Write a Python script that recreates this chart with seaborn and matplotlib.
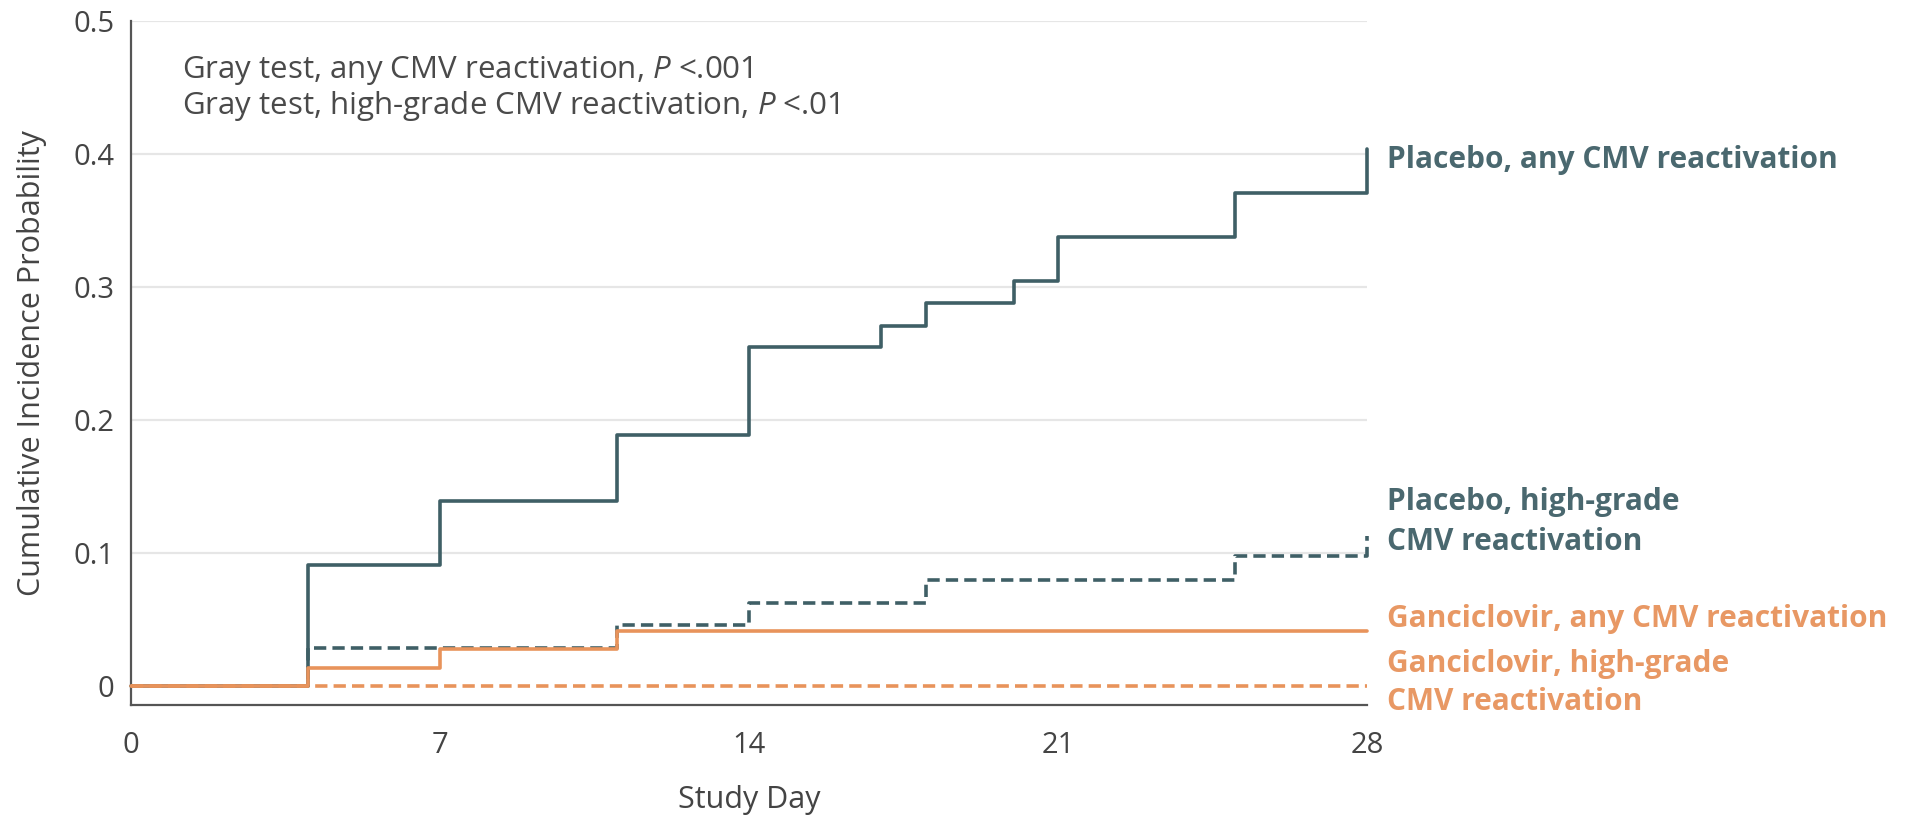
import pandas as pd
import matplotlib.pyplot as plt
import matplotlib.font_manager as fm
import seaborn as sns

# step data (study day, cumulative incidence)
placebo_any_day = [0, 4, 7, 11, 14, 17, 18, 20, 21, 25, 28, 28]
placebo_any_p = [0, 0.091, 0.139, 0.189, 0.255, 0.271, 0.288, 0.305, 0.338, 0.371, 0.371, 0.404]

placebo_hg_day = [0, 4, 11, 14, 18, 25, 28, 28]
placebo_hg_p = [0, 0.029, 0.046, 0.063, 0.080, 0.098, 0.098, 0.113]

gan_any_day = [0, 4, 7, 11, 28]
gan_any_p = [0, 0.014, 0.028, 0.042, 0.042]

gan_hg_day = [0, 28]
gan_hg_p = [0, 0]

x_ticks = [0, 7, 14, 21, 28]
y_ticks = [0, 0.1, 0.2, 0.3, 0.4, 0.5]
y_tick_labels = ['0', '0.1', '0.2', '0.3', '0.4', '0.5']

TEAL = '#3f5f66'
TEAL_TXT = '#4a686f'
ORANGE = '#e8935b'
ORANGE_TXT = '#e89864'
AXIS = '#555555'

sns.set_style('white')
names = {f.name for f in fm.fontManager.ttflist}
family = 'DejaVu Sans'
for cand in ['Liberation Sans Narrow', 'Open Sans', 'Lato']:
    if cand in names:
        family = cand
        break
plt.rcParams.update({
    'font.family': family,
    'mathtext.fontset': 'custom',
    'mathtext.it': family + ':italic',
    'mathtext.rm': family,
})

fig = plt.figure(figsize=(19.05, 8.16), dpi=100)
ax = fig.add_axes([0.0688, 0.136, 0.6488, 0.838])

# gridlines
for yv in y_ticks[1:]:
    ax.axhline(yv, color='#e6e6e6', lw=1.6, zorder=0)

dash = (0, (3.4, 1.7))
series = [
    (placebo_any_day, placebo_any_p, TEAL, '-'),
    (placebo_hg_day, placebo_hg_p, TEAL, dash),
    (gan_any_day, gan_any_p, ORANGE, '-'),
    (gan_hg_day, gan_hg_p, ORANGE, dash),
]
for days, probs, col, ls in series:
    df = pd.DataFrame({'day': days, 'p': probs})
    sns.lineplot(data=df, x='day', y='p', ax=ax, estimator=None, sort=False,
                 drawstyle='steps-post', color=col, lw=2.6, linestyle=ls,
                 clip_on=False, zorder=3)

ax.set_xlim(0, 28)
ax.set_ylim(-0.014, 0.5)
ax.set_xticks(x_ticks)
ax.set_yticks(y_ticks)
ax.set_yticklabels(y_tick_labels)
ax.tick_params(axis='both', labelsize=21, colors=AXIS, labelcolor='#444444',
               direction='out', width=1.5)
ax.tick_params(axis='y', length=6, pad=6)
ax.tick_params(axis='x', length=9, pad=10)
sns.despine(ax=ax)
for s in ['left', 'bottom']:
    ax.spines[s].set_color(AXIS)
    ax.spines[s].set_linewidth(1.6)

ax.set_xlabel('Study Day', fontsize=22, color='#444444', labelpad=18)
ax.set_ylabel('Cumulative Incidence Probability', fontsize=22, color='#444444', labelpad=19)

# test annotation
ax.text(1.16, 0.463, 'Gray test, any CMV reactivation, $P$ <.001',
        fontsize=22.5, color='#4a4a4a', va='center')
ax.text(1.16, 0.436, 'Gray test, high-grade CMV reactivation, $P$ <.01',
        fontsize=22.5, color='#4a4a4a', va='center')

# direct labels
lab_x = 28.45
lab_fs = 21.5
ax.text(lab_x, 0.396, 'Placebo, any CMV reactivation', fontsize=lab_fs,
        fontweight='bold', color=TEAL_TXT, va='center')
ax.text(lab_x, 0.1235, 'Placebo, high-grade\nCMV reactivation', fontsize=lab_fs,
        fontweight='bold', color=TEAL_TXT, va='center', linespacing=1.42)
ax.text(lab_x, 0.051, 'Ganciclovir, any CMV reactivation', fontsize=lab_fs,
        fontweight='bold', color=ORANGE_TXT, va='center')
ax.text(lab_x, 0.0025, 'Ganciclovir, high-grade\nCMV reactivation', fontsize=lab_fs,
        fontweight='bold', color=ORANGE_TXT, va='center', linespacing=1.38)

fig.savefig('out.png', dpi=100)
